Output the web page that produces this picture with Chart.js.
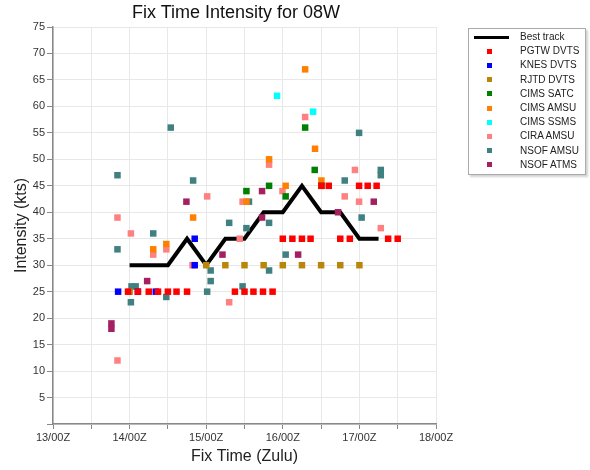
<!DOCTYPE html>
<html>
<head>
<meta charset="utf-8">
<script src="https://cdn.jsdelivr.net/npm/chart.js@4"></script>
<style>
  body { margin: 0; background: #fff; }
  #wrap { position: relative; width: 590px; height: 470px; font-family: "Liberation Sans", Arial, sans-serif; }
  #title { position: absolute; left: 132px; width: 200px; top: 2px; text-align: center; font-size: 18px; color: #111; white-space: nowrap; }
  #legend { position: absolute; left: 468px; top: 28px; width: 118px; height: 147px; border: 1px solid #aaa;
            box-shadow: 2px 2px 2px rgba(0,0,0,0.18); background: #fff; box-sizing: border-box; padding-top: 1px; }
  .row { position: relative; height: 14.2px; font-size: 10px; line-height: 14.2px; color: #222; }
  .row span.lbl { position: absolute; left: 51px; top: 0; }
  .row i { position: absolute; display: block; }
</style>
</head>
<body>
<div id="wrap">
  <canvas id="chart" width="590" height="470"></canvas>
  <div id="title">Fix Time Intensity for 08W</div>
  <div id="legend"></div>
</div>
<script>
// hours after 13/00Z, intensity in kts
const dayLabels = ['13/00Z', '14/00Z', '15/00Z', '16/00Z', '17/00Z', '18/00Z'];

const bestHours = [24, 30, 36, 42, 48, 54, 60, 66, 72, 78, 84, 90, 96, 102];
const bestKts   = [30, 30, 30, 35, 30, 35, 35, 40, 40, 45, 40, 40, 35, 35];

const pgtwDvts = [[23.5,25],[26.6,25],[30,25],[32.9,25],[36,25],[38.7,25],[42,25],
                  [57,25],[60,25],[62.8,25],[65.8,25],[68.8,25],
                  [72,35],[75,35],[78,35],[80.7,35],[84.1,45],[86.4,45],[90,35],[93,35],
                  [95.9,45],[98.6,45],[101.4,45],[105,35],[108,35]];
const knesDvts = [[20.4,25],[26.6,25],[32.2,25],[44.4,35],[44.4,30]];
const rjtdDvts = [[24,25],[48,30],[54,30],[60,30],[66,30],[72,30],[78,30],[84,30],[90,30],[96,30]];
const cimsSatc = [[60.6,44],[67.7,45],[72.9,43],[79,56],[82,48],[84.1,45]];
const cimsAmsu = [[31.4,33],[35.5,34],[43.9,39],[60.6,42],[67.7,50],[72.9,45],[79,67],[82.1,52],[84.1,46]];
const cimsSsms = [[70.2,62],[81.5,59]];
const ciraAmsu = [[20.2,39],[20.2,12],[24.4,36],[31.4,32],[35.5,33],[43.7,30],[48.3,43],[55.2,23],
                  [58.5,35],[59.4,42],[67.7,49],[71.9,44],[79,58],[91.4,43],[94.6,48],[95.9,42],[102.7,37]];
const nsofAmsu = [[20.2,47],[20.2,33],[24.4,23],[24.6,26],[25.9,26],[31.4,36],[35.5,24],[36.9,56],
                  [43.9,46],[48.3,25],[49.4,29],[49.4,27],[55.2,38],[59.4,26],[60.6,37],[61.4,42],
                  [67.7,38],[67.7,29],[72.9,32],[91.4,46],[95.9,55],[96.7,39],[102.7,48],[102.7,47]];
const nsofAtms = [[18.3,19],[18.3,18],[29.5,27],[41.8,42],[53.1,32],[65.5,39],[65.5,44],[76.8,32],[89.3,40],[100.5,42]];

const toXY = pairs => pairs.map(p => ({ x: p[0], y: p[1] }));

const fixSeries = [
  { label: 'PGTW DVTS', data: pgtwDvts, color: '#ff0000' },
  { label: 'KNES DVTS', data: knesDvts, color: '#0000ff' },
  { label: 'RJTD DVTS', data: rjtdDvts, color: '#b8860b' },
  { label: 'CIMS SATC', data: cimsSatc, color: '#008000' },
  { label: 'CIMS AMSU', data: cimsAmsu, color: '#ff8000' },
  { label: 'CIMS SSMS', data: cimsSsms, color: '#00ffff' },
  { label: 'CIRA AMSU', data: ciraAmsu, color: '#ff8080' },
  { label: 'NSOF AMSU', data: nsofAmsu, color: '#408080' },
  { label: 'NSOF ATMS', data: nsofAtms, color: '#a52060' }
];

const datasets = [{
  type: 'line',
  label: 'Best track',
  data: bestHours.map((h, i) => ({ x: h, y: bestKts[i] })),
  borderColor: '#000',
  borderWidth: 4,
  pointRadius: 0,
  showLine: true,
  tension: 0,
  order: 20
}];
fixSeries.forEach((s, i) => {
  datasets.push({
    label: s.label,
    data: toXY(s.data),
    backgroundColor: s.color,
    borderColor: s.color,
    borderWidth: 0,
    pointStyle: 'rect',
    pointRadius: 4.6,
    order: i
  });
});

new Chart(document.getElementById('chart'), {
  type: 'scatter',
  data: { datasets },
  options: {
    responsive: false,
    animation: false,
    devicePixelRatio: 1,
    layout: { padding: { left: 8, top: 27, right: 154, bottom: 0 } },
    plugins: { legend: { display: false }, tooltip: { enabled: false } },
    scales: {
      x: {
        type: 'linear',
        min: 0, max: 120,
        afterFit: s => { s.height = 46; },
        grid: { color: '#e8e8e8', tickColor: '#888', tickLength: 5 },
        border: { color: '#888', width: 1.5 },
        ticks: {
          stepSize: 12, autoSkip: false, maxRotation: 0, padding: 2,
          color: '#333', font: { size: 11, family: '"Liberation Sans", Arial, sans-serif' },
          callback: v => (v % 24 === 0 ? dayLabels[v / 24] : '')
        },
        title: { display: true, text: 'Fix Time (Zulu)', color: '#222', padding: { top: 0, bottom: 4 },
                 font: { size: 16, family: '"Liberation Sans", Arial, sans-serif' } }
      },
      y: {
        min: 0, max: 75,
        afterFit: s => { s.width = 45; },
        grid: { color: '#e8e8e8', tickColor: '#888', tickLength: 6 },
        border: { color: '#888', width: 1.5 },
        ticks: {
          stepSize: 5, padding: 2, color: '#333',
          font: { size: 11, family: '"Liberation Sans", Arial, sans-serif' },
          callback: v => (v === 0 ? '' : v)
        },
        title: { display: true, text: 'Intensity (kts)', color: '#222', padding: { top: 4, bottom: 4 },
                 font: { size: 16, family: '"Liberation Sans", Arial, sans-serif' } }
      }
    }
  }
});

// legend box, built from the same datasets
const legend = document.getElementById('legend');
datasets.forEach(ds => {
  const row = document.createElement('div');
  row.className = 'row';
  const mark = document.createElement('i');
  if (ds.type === 'line') {
    Object.assign(mark.style, { left: '5px', top: '6px', width: '35px', height: '3px', background: '#000' });
  } else {
    Object.assign(mark.style, { left: '18px', top: '4.6px', width: '5px', height: '5px', background: ds.backgroundColor });
  }
  const lbl = document.createElement('span');
  lbl.className = 'lbl';
  lbl.textContent = ds.label;
  row.appendChild(mark);
  row.appendChild(lbl);
  legend.appendChild(row);
});
</script>
</body>
</html>
